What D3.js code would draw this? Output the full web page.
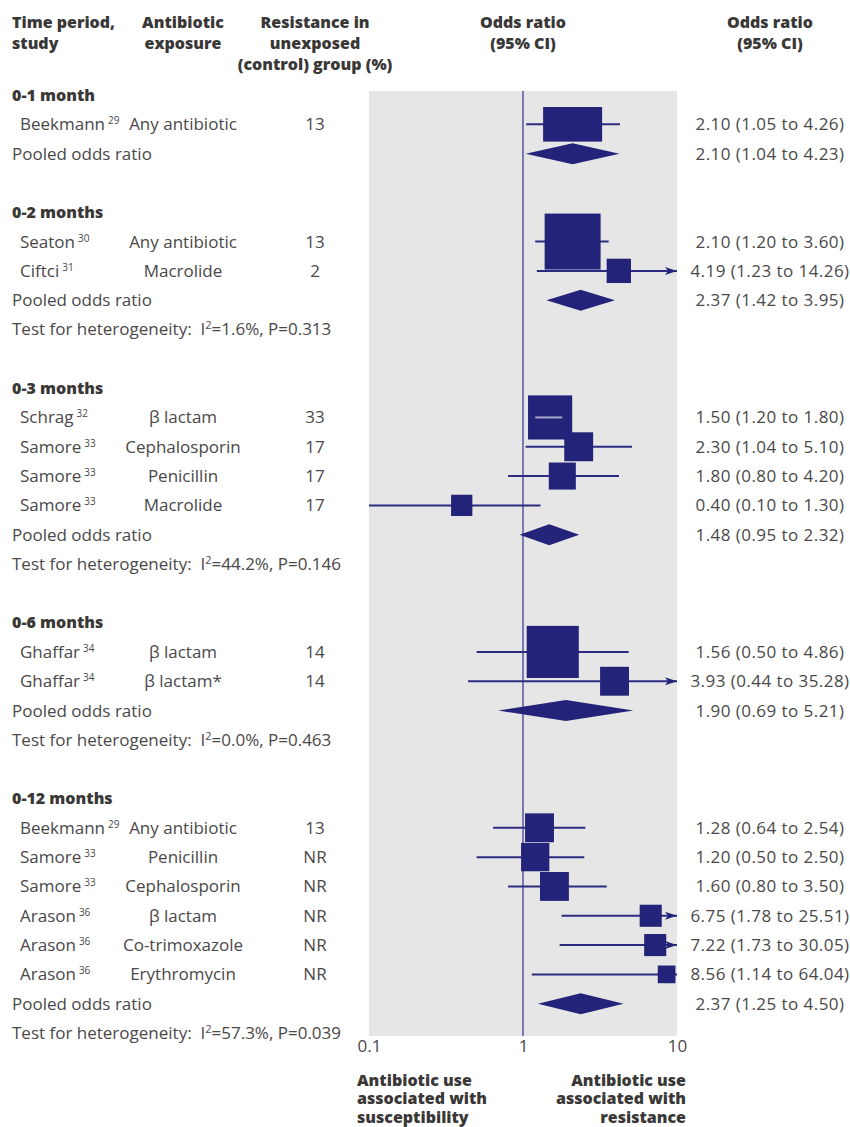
<!DOCTYPE html>
<html>
<head>
<meta charset="utf-8">
<script src="https://cdn.jsdelivr.net/npm/d3@7"></script>
<style>
  body { margin: 0; background: #fff; }
  svg { display: block; }
  text { font-family: "Open Sans", Lato, sans-serif; }
</style>
</head>
<body>
<svg id="chart" width="850" height="1127"></svg>
<script>
// ---- data ----
const groupLabels = ["0-1 month", "0-2 months", "0-3 months", "0-6 months", "0-12 months"];

const studyGroup = [0, 1, 1, 2, 2, 2, 2, 3, 3, 4, 4, 4, 4, 4, 4];
const studyNames = ["Beekmann", "Seaton", "Ciftci", "Schrag", "Samore", "Samore", "Samore",
  "Ghaffar", "Ghaffar", "Beekmann", "Samore", "Samore", "Arason", "Arason", "Arason"];
const studyRefs = ["29", "30", "31", "32", "33", "33", "33", "34", "34", "29", "33", "33", "36", "36", "36"];
const exposures = ["Any antibiotic", "Any antibiotic", "Macrolide", "β lactam", "Cephalosporin",
  "Penicillin", "Macrolide", "β lactam", "β lactam*", "Any antibiotic", "Penicillin",
  "Cephalosporin", "β lactam", "Co-trimoxazole", "Erythromycin"];
const controlResistance = ["13", "13", "2", "33", "17", "17", "17", "14", "14", "13", "NR", "NR", "NR", "NR", "NR"];
const oddsRatio = [2.10, 2.10, 4.19, 1.50, 2.30, 1.80, 0.40, 1.56, 3.93, 1.28, 1.20, 1.60, 6.75, 7.22, 8.56];
const ciLow = [1.05, 1.20, 1.23, 1.20, 1.04, 0.80, 0.10, 0.50, 0.44, 0.64, 0.50, 0.80, 1.78, 1.73, 1.14];
const ciHigh = [4.26, 3.60, 14.26, 1.80, 5.10, 4.20, 1.30, 4.86, 35.28, 2.54, 2.50, 3.50, 25.51, 30.05, 64.04];
// relative weight of each study (box area)
const studyWeight = [100, 90, 17, 56, 24, 21, 13, 78, 24, 24, 23, 24, 14, 14, 9];

const pooledOR = [2.10, 2.37, 1.48, 1.90, 2.37];
const pooledLow = [1.04, 1.42, 0.95, 0.69, 1.25];
const pooledHigh = [4.23, 3.95, 2.32, 5.21, 4.50];
const heteroI2 = [null, "1.6%", "44.2%", "0.0%", "57.3%"];
const heteroP = [null, "0.313", "0.146", "0.463", "0.039"];

const axisTicks = [0.1, 1, 10];
const axisTickLabels = ["0.1", "1", "10"];

// ---- styling ----
const navy = "#24237a";
const lineCol = "#2c2b80";
const refCol = "#6e6daa";
const textCol = "#4a4848";
const headCol = "#3a3737";
const fs = 17;        // body text
const fsHead = 16;    // bold headings
const fontStack = "'Open Sans', Lato, sans-serif";

const svg = d3.select("#chart");

// ---- lay out rows ----
const rows = [];   // {type, group, study}
groupLabels.forEach((g, gi) => {
  rows.push({ type: "group", group: gi });
  studyGroup.forEach((sg, si) => { if (sg === gi) rows.push({ type: "study", group: gi, study: si }); });
  rows.push({ type: "pooled", group: gi });
  if (heteroI2[gi] !== null) rows.push({ type: "hetero", group: gi });
  if (gi < groupLabels.length - 1) rows.push({ type: "blank", group: gi });
});

const y = d3.scaleLinear().domain([0, rows.length - 1]).range([95, 1033]);
const x = d3.scaleLog().domain([0.1, 10]).range([369, 677]);
const boxSide = d3.scaleSqrt().domain([0, 100]).range([0, 59]);

const panelTop = 91, panelBottom = 1036;
const diamondHalf = 10.5;

// ---- grey plotting panel ----
svg.append("rect")
  .attr("x", x(0.1)).attr("y", panelTop)
  .attr("width", x(10) - x(0.1)).attr("height", panelBottom - panelTop)
  .attr("fill", "#e6e6e6");

// line of no effect
svg.append("line")
  .attr("x1", x(1)).attr("x2", x(1))
  .attr("y1", panelTop).attr("y2", panelBottom)
  .attr("stroke", refCol).attr("stroke-width", 1.8);

// multi-line bold block as a single text element
function boldBlock(xPos, yTop, lineGap, anchor, lines) {
  const t = svg.append("text")
    .attr("x", xPos).attr("y", yTop).attr("dy", "0.35em")
    .attr("text-anchor", anchor)
    .attr("font-size", fsHead).attr("font-weight", 800).attr("fill", headCol);
  lines.forEach((ln, i) => {
    t.append("tspan").attr("x", xPos).attr("y", yTop + i * lineGap).attr("dy", "0.35em").text(ln);
  });
}

// ---- column headers ----
boldBlock(12, 22, 21, "start", ["Time period,", "study"]);
boldBlock(183, 22, 21, "middle", ["Antibiotic", "exposure"]);
boldBlock(315, 22, 21, "middle", ["Resistance in", "unexposed", "(control) group (%)"]);
boldBlock(x(1), 22, 21, "middle", ["Odds ratio", "(95% CI)"]);
boldBlock(770, 22, 21, "middle", ["Odds ratio", "(95% CI)"]);

const fmt = d3.format(".2f");
const ciText = (o, l, h) => `${fmt(o)} (${fmt(l)} to ${fmt(h)})`;

function arrowHead(g, xEnd, yc) {
  g.append("path")
    .attr("d", `M${xEnd},${yc} L${xEnd - 12},${yc - 4} L${xEnd - 9},${yc} L${xEnd - 12},${yc + 4} Z`)
    .attr("fill", navy);
}

function ciLabel(yc, str) {
  labels.append("text")
    .attr("x", 770).attr("y", yc).attr("dy", "0.35em").attr("text-anchor", "middle")
    .attr("font-size", fs).attr("letter-spacing", 0.45).attr("fill", textCol)
    .text(str);
}

const marks = svg.append("g");
const labels = svg.append("g");

rows.forEach((r, ri) => {
  const yc = y(ri);
  if (r.type === "group") {
    labels.append("text")
      .attr("x", 12).attr("y", yc).attr("dy", "0.35em")
      .attr("font-size", fsHead).attr("font-weight", 800).attr("fill", headCol)
      .text(groupLabels[r.group]);
  } else if (r.type === "study") {
    const s = r.study;
    const name = labels.append("text")
      .attr("x", 20).attr("y", yc).attr("dy", "0.35em")
      .attr("font-size", fs).attr("fill", textCol);
    name.append("tspan").text(studyNames[s]);
    name.append("tspan").attr("dx", 3).attr("dy", -6).attr("font-size", 10).text(studyRefs[s]);
    labels.append("text")
      .attr("x", 183).attr("y", yc).attr("dy", "0.35em").attr("text-anchor", "middle")
      .attr("font-size", fs).attr("fill", textCol).text(exposures[s]);
    labels.append("text")
      .attr("x", 315).attr("y", yc).attr("dy", "0.35em").attr("text-anchor", "middle")
      .attr("font-size", fs).attr("fill", textCol).text(controlResistance[s]);
    ciLabel(yc, ciText(oddsRatio[s], ciLow[s], ciHigh[s]));

    // confidence interval
    const lo = Math.max(ciLow[s], 0.1), hi = Math.min(ciHigh[s], 10);
    const g = marks.append("g");
    g.append("line")
      .attr("x1", x(lo)).attr("x2", x(hi)).attr("y1", yc).attr("y2", yc)
      .attr("stroke", lineCol).attr("stroke-width", 2);
    if (ciHigh[s] > 10) arrowHead(g, x(10), yc);

    // weighted box, kept clear of the pooled diamond below
    const side = boxSide(studyWeight[s]);
    const pooledRow = rows.findIndex(q => q.type === "pooled" && q.group === r.group);
    const gap = y(pooledRow) - diamondHalf - 1.5 - yc;
    const halfH = Math.min(side / 2, gap);
    const cx = x(oddsRatio[s]);
    g.append("rect")
      .attr("x", cx - side / 2).attr("y", yc - halfH)
      .attr("width", side).attr("height", halfH * 2)
      .attr("fill", navy);
    // interval hidden inside the box is redrawn in a light tone
    if (x(ciLow[s]) > cx - side / 2 && x(ciHigh[s]) < cx + side / 2) {
      g.append("line")
        .attr("x1", x(ciLow[s])).attr("x2", x(ciHigh[s])).attr("y1", yc).attr("y2", yc)
        .attr("stroke", "#a9a8cf").attr("stroke-width", 2);
    }
  } else if (r.type === "pooled") {
    const gi = r.group;
    labels.append("text")
      .attr("x", 12).attr("y", yc).attr("dy", "0.35em")
      .attr("font-size", fs).attr("fill", textCol).text("Pooled odds ratio");
    ciLabel(yc, ciText(pooledOR[gi], pooledLow[gi], pooledHigh[gi]));
    marks.append("path")
      .attr("d", `M${x(pooledLow[gi])},${yc} L${x(pooledOR[gi])},${yc - diamondHalf} L${x(pooledHigh[gi])},${yc} L${x(pooledOR[gi])},${yc + diamondHalf} Z`)
      .attr("fill", navy);
  } else if (r.type === "hetero") {
    const gi = r.group;
    const t = labels.append("text")
      .attr("x", 12).attr("y", yc).attr("dy", "0.35em")
      .attr("font-size", fs).attr("fill", textCol)
      .attr("xml:space", "preserve");
    t.append("tspan").text("Test for heterogeneity:  I");
    t.append("tspan").attr("dy", -6).attr("font-size", 11).text("2");
    t.append("tspan").attr("dy", 6).text(`=${heteroI2[gi]}, P=${heteroP[gi]}`);
  }
});

// ---- axis ----
const axis = d3.axisBottom(x).tickValues(axisTicks)
  .tickFormat((d, i) => axisTickLabels[i]).tickSize(0).tickPadding(0);
const ax = svg.append("g").attr("transform", `translate(0,${1040})`).call(axis);
ax.select(".domain").remove();
ax.selectAll("text")
  .attr("font-size", fs).attr("fill", textCol)
  .style("font-family", fontStack);

// ---- direction captions ----
boldBlock(357, 1080, 18.5, "start", ["Antibiotic use", "associated with", "susceptibility"]);
boldBlock(686, 1080, 18.5, "end", ["Antibiotic use", "associated with", "resistance"]);
</script>
</body>
</html>
